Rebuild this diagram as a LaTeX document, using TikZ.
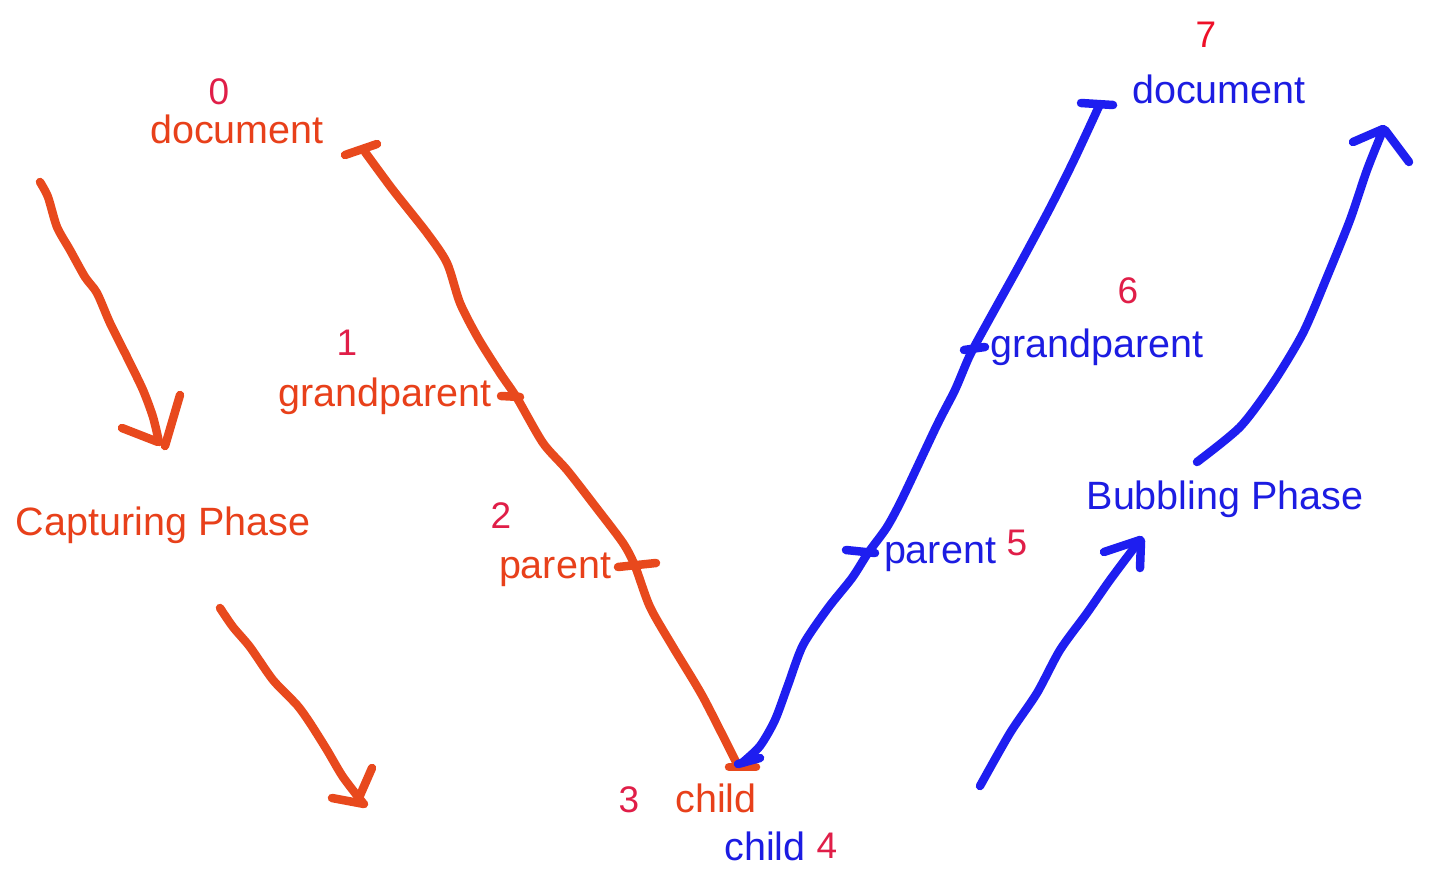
\documentclass[tikz,border=0pt]{standalone}
\usepackage{fontspec}
\setmainfont{Liberation Sans}
\definecolor{orstroke}{HTML}{E8491D}
\definecolor{ortext}{HTML}{E8401A}
\definecolor{numred}{HTML}{E01E48}
\definecolor{sevred}{HTML}{EE1028}
\definecolor{blstroke}{HTML}{1E1EF0}
\definecolor{bltext}{HTML}{1C1CE2}
\begin{document}
\begin{tikzpicture}[x=1pt,y=-1pt,
  lbl/.style={anchor=base,inner sep=0pt,font=\fontsize{39.5}{45}\selectfont},
  num/.style={anchor=base,inner sep=0pt,font=\fontsize{37}{42}\selectfont,text=numred},
  olbl/.style={lbl,text=ortext},
  blbl/.style={lbl,text=bltext},
  ostroke/.style={draw=orstroke,line width=8.5pt,line cap=round,line join=round},
  bstroke/.style={draw=blstroke,line width=8.5pt,line cap=round,line join=round}]
\useasboundingbox[fill=white] (0,0) rectangle (1434,878);
% labels
\node[num] (n0) at (219,104) {0};
\node[olbl] (docL) at (237,143) {document};
\node[num] (n1) at (347,355) {1};
\node[olbl] (gpL) at (385,406) {grandparent};
\node[num] (n2) at (501,528) {2};
\node[olbl] (parL) at (555,578) {parent};
\node[olbl] (cap) at (163,535) {Capturing Phase};
\node[num] (n3) at (629,812) {3};
\node[olbl] (chL) at (716,812) {child};
\node[blbl] (chR) at (765,860) {child};
\node[num] (n4) at (827,858) {4};
\node[blbl] (parR) at (940,563) {parent};
\node[num] (n5) at (1017,555) {5};
\node[num] (n6) at (1128,303) {6};
\node[blbl] (gpR) at (1097,357) {grandparent};
\node[blbl] (bub) at (1225,509) {Bubbling Phase};
\node[num,text=sevred] (n7) at (1206,47) {7};
\node[blbl] (docR) at (1219,103) {document};
% capturing path (orange)
\draw[ostroke] plot[smooth,tension=0.45] coordinates {(365,152) (393,190) (427,233) (447,263) (460,303) (478,338) (500,373) (517,398) (543,443) (567,470) (595,506) (623,543) (635,566) (650,607) (673,647) (703,697) (737,764)};
\draw[ostroke] (345,155) -- (377,144);
\draw[ostroke] (501,396) -- (520,397);
\draw[ostroke] (618,567) -- (656,563);
\draw[ostroke] (729,767) -- (756,767);
% bubbling path (blue)
\draw[bstroke] plot[smooth,tension=0.45] coordinates {(742,763) (760,746) (775,720) (788,685) (803,645) (828,608) (852,578) (868,553) (887,527) (903,497) (937,425) (955,390) (970,355) (990,318) (1020,264) (1050,208) (1074,160) (1100,104)};
\draw[bstroke] (738,764) -- (760,758);
\draw[bstroke] (846,550) -- (875,553);
\draw[bstroke] (964,350) -- (985,347);
\draw[bstroke] (1081,103) -- (1113,105);
% left arrows (orange)
\draw[ostroke] plot[smooth,tension=0.45] coordinates {(40,182) (48,197) (57,227) (70,250) (85,277) (97,293) (110,323) (127,357) (143,390) (153,417) (159,442)};
\draw[ostroke] (122,428) -- (158,442);
\draw[ostroke] (180,395) -- (165,446);
\draw[ostroke] plot[smooth,tension=0.45] coordinates {(220,608) (233,627) (250,647) (273,680) (297,705) (310,723) (327,750) (343,777) (363,803)};
\draw[ostroke] (332,798) -- (364,804);
\draw[ostroke] (372,768) -- (358,800);
% right arrows (blue)
\draw[bstroke] plot[smooth,tension=0.45] coordinates {(980,786) (1010,733) (1037,693) (1060,650) (1087,613) (1110,580) (1140,540)};
\draw[bstroke] (1104,552) -- (1140,540);
\draw[bstroke] (1140,568) -- (1141,541);
\draw[bstroke] plot[smooth,tension=0.45] coordinates {(1197,462) (1240,427) (1273,383) (1303,333) (1327,277) (1350,220) (1367,170) (1383,130)};
\draw[bstroke] (1353,142) -- (1383,129);
\draw[bstroke] (1409,162) -- (1385,130);
\end{tikzpicture}
\end{document}
